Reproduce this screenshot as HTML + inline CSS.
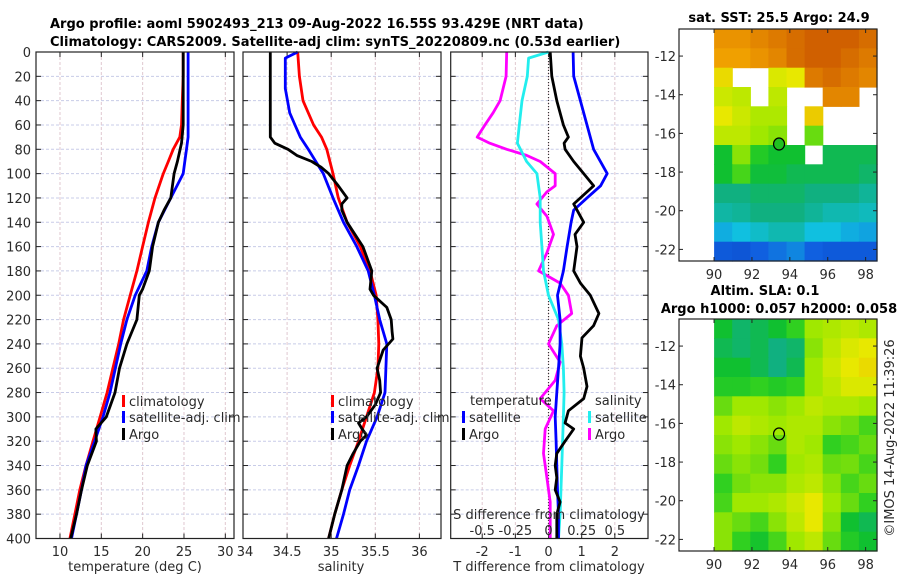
<!DOCTYPE html>
<html><head><meta charset="utf-8">
<style>
body{margin:0;background:#fff;}
svg{display:block;font-family:"DejaVu Sans","Liberation Sans",sans-serif;}
.t{font-size:13px;fill:#2a2a2a;}
.b{font-weight:bold;font-size:13px;fill:#000;}
</style></head>
<body>
<svg id="fig" width="900" height="580" viewBox="0 0 900 580">
<text class="b" x="50" y="28">Argo profile: aoml 5902493_213 09-Aug-2022 16.55S 93.429E (NRT data)</text>
<text class="b" x="50" y="46">Climatology: CARS2009. Satellite-adj clim: synTS_20220809.nc (0.53d earlier)</text>
<g id="g"></g>
</svg>
<script>
// ---------- data ----------
const depthT = [0,20,40,60,70,80,90,100,120,140,160,180,200,220,240,260,280,300,320,340,360,380,400];
const tempClim = [24.9,24.9,24.8,24.7,24.5,23.7,23.1,22.5,21.5,20.7,20.0,19.3,18.5,17.7,17.1,16.4,15.7,14.85,14.0,13.15,12.4,11.8,11.2];
const tempSat  = [25.5,25.5,25.5,25.5,25.5,25.3,25.1,24.9,23.4,21.9,21.1,20.5,19.1,18.1,17.35,16.7,16.05,15.2,14.2,13.15,12.6,12.0,11.4];
const depthTA = [0,20,40,60,75,90,100,120,130,140,160,180,195,200,220,240,260,280,300,310,320,340,360,380,400];
const tempArgo = [24.9,24.9,24.9,24.9,24.7,24.2,23.8,23.4,22.6,21.9,21.2,20.8,20.0,19.6,19.3,18.1,17.2,16.66,15.6,14.35,14.4,13.3,12.6,12.0,11.3];

const depthS = [0,20,40,60,70,80,100,120,140,160,180,200,220,240,260,280,300,320,340,360,380,400];
const salClim = [34.62,34.64,34.68,34.80,34.89,34.95,35.02,35.08,35.18,35.33,35.44,35.51,35.53,35.54,35.53,35.49,35.40,35.31,35.21,35.12,35.04,34.97];
const depthSS = [0,5,30,50,60,70,80,100,120,140,160,180,200,220,240,260,280,300,320,340,360,380,400];
const salSat = [34.62,34.48,34.48,34.53,34.59,34.65,34.74,34.91,35.02,35.14,35.29,35.42,35.49,35.55,35.63,35.62,35.61,35.52,35.40,35.31,35.21,35.14,35.06];
const depthSA = [0,70,75,80,85,90,95,100,110,120,125,130,140,160,180,195,200,210,220,230,236,245,260,270,280,290,300,305,310,315,320,330,340,360,380,400];
const salArgo = [34.31,34.31,34.36,34.51,34.61,34.78,34.89,34.97,35.08,35.18,35.12,35.12,35.18,35.36,35.46,35.44,35.48,35.63,35.68,35.69,35.70,35.59,35.52,35.55,35.56,35.50,35.40,35.31,35.35,35.40,35.33,35.25,35.18,35.12,35.04,34.97];

const depthDTA = [0,20,40,60,70,75,80,90,100,110,115,125,130,140,150,160,180,190,200,215,225,235,250,260,275,285,295,305,310,320,330,340,350,360,370,380,400];
const dTArgo = [0.05,0.1,0.25,0.45,0.6,0.47,0.5,0.76,1.06,1.36,1.16,0.76,0.86,1.06,0.8,0.86,0.76,0.96,1.26,1.52,1.36,1.01,0.96,1.06,1.16,1.06,0.6,0.5,0.76,0.5,0.25,0.2,0.25,0.2,0.35,0.25,0.25];
const depthDTS = [0,20,40,60,80,100,110,120,130,140,160,180,200,220,240,260,280,300,320,340,360,380,400];
const dTSat = [0.74,0.76,0.96,1.16,1.36,1.77,1.57,1.16,0.76,0.68,0.56,0.45,0.27,0.35,0.35,0.3,0.25,0.2,0.23,0.25,0.27,0.3,0.3];
const depthDSA = [0,20,40,50,60,70,75,80,85,90,100,110,115,125,135,150,165,180,190,200,215,225,240,255,270,285,295,310,330,350,370,400];
const dSArgo = [-0.315,-0.32,-0.365,-0.4175,-0.48,-0.5375,-0.4425,-0.315,-0.165,-0.0625,0.05,0.05,-0.0125,-0.0875,-0.0125,0.0375,-0.0125,-0.075,0.0875,0.15,0.175,0.0625,0,0.0875,0.05,-0.0625,0.0375,-0.025,-0.0375,-0.0125,0.0125,0.0125];
const depthDSS = [0,5,20,40,60,75,90,100,120,140,160,180,200,220,240,260,280,300,340,380,400];
const dSSat = [0,-0.15,-0.16,-0.2,-0.22,-0.235,-0.165,-0.0875,-0.0625,-0.0625,-0.05,-0.0375,0,0.075,0.1,0.1125,0.1175,0.1125,0.1,0.0875,0.075];

const depthTicks = [0,20,40,60,80,100,120,140,160,180,200,220,240,260,280,300,320,340,360,380,400];
const tTicks = [10,15,20,25,30];
const sTicks = [34,34.5,35,35.5,36];
const dTicks = [-2,-1,0,1,2];
const dSTicks = [-0.5,-0.25,0,0.25,0.5];
const dSTickLabels = ["-0.5","-0.25","0","0.25","0.5"];

// SST map (normalized colour values, null = no data), rows north->south
const sstGrid = [
[0.82,0.82,0.84,0.86,0.88,0.9,0.9,0.9,0.88],
[0.8,0.8,0.82,0.84,0.88,0.9,0.9,0.88,0.86],
[0.72,null,null,0.68,0.7,0.86,0.88,0.86,0.84],
[0.66,0.64,null,0.64,null,null,0.84,0.84,null],
[0.7,0.66,0.62,0.62,null,0.74,null,null,null],
[0.64,0.64,0.6,0.58,null,0.55,null,null,null],
[0.45,0.58,0.48,0.45,0.45,null,0.42,0.42,0.42],
[0.45,0.52,0.44,0.44,0.42,0.42,0.42,0.42,0.4],
[0.38,0.38,0.4,0.4,0.4,0.38,0.38,0.38,0.36],
[0.35,0.36,0.38,0.38,0.38,0.36,0.34,0.34,0.33],
[0.28,0.3,0.32,0.34,0.34,0.3,0.3,0.28,0.27],
[0.18,0.17,0.2,0.22,0.24,0.2,0.18,0.18,0.18]];
const slaGrid = [
[0.45,0.4,0.42,0.45,0.5,0.6,0.62,0.64,0.62],
[0.42,0.4,0.42,0.38,0.4,0.58,0.64,0.68,0.7],
[0.45,0.45,0.42,0.38,0.42,0.6,0.66,0.7,0.72],
[0.48,0.48,0.5,0.48,0.5,0.6,0.64,0.68,0.68],
[0.55,0.6,0.6,0.58,0.6,0.64,0.62,0.62,0.6],
[0.6,0.64,0.62,0.6,0.62,0.62,0.58,0.56,0.52],
[0.58,0.6,0.58,0.55,0.62,0.6,0.5,0.52,0.55],
[0.55,0.58,0.56,0.5,0.6,0.62,0.55,0.56,0.52],
[0.5,0.56,0.58,0.58,0.62,0.64,0.58,0.52,0.55],
[0.52,0.6,0.6,0.62,0.66,0.7,0.6,0.55,0.5],
[0.58,0.55,0.52,0.58,0.64,0.7,0.58,0.45,0.42],
[0.58,0.5,0.46,0.52,0.6,0.64,0.55,0.48,0.45]];
const lonTicks = [90,92,94,96,98];
const latTicks = [-12,-14,-16,-18,-20,-22];
const argoLon = 93.43, argoLat = -16.55;

// ---------- drawing ----------
const NS='http://www.w3.org/2000/svg';
const G=document.getElementById('g');
function el(tag,attrs,parent){const e=document.createElementNS(NS,tag);for(const k in attrs)e.setAttribute(k,attrs[k]);(parent||G).appendChild(e);return e;}
function txt(x,y,s,anchor,cls,parent){const e=el('text',{x:x,y:y,'text-anchor':anchor||'middle','class':cls||'t'},parent);e.textContent=s;return e;}

const Y0=52,Y1=538.5;
const yD=d=>Y0+(Y1-Y0)*d/400;

function panel(name,x0,x1,xmin,xmax){
  const g=el('g',{});
  
  
  const sx=v=>x0+(x1-x0)*(v-xmin)/(xmax-xmin);
  return {g,sx,x0,x1};
}
function frame(p,xt,yLabels){
  const g=p.g;
  for(const d of depthTicks){
    const l=el('line',{x1:p.x0,x2:p.x1,y1:yD(d),y2:yD(d),stroke:'#c8cce8','stroke-width':1,'stroke-dasharray':'3,2'},g);
    
    
    el('line',{x1:p.x0,x2:p.x0+5,y1:yD(d),y2:yD(d),stroke:'#222'},g);
    el('line',{x1:p.x1,x2:p.x1-5,y1:yD(d),y2:yD(d),stroke:'#222'},g);
    if(yLabels){const t=txt(31,yD(d)+5,String(d),'end','t',g);
      
      }
  }
  for(const v of xt){
    const l=el('line',{x1:p.sx(v),x2:p.sx(v),y1:Y0,y2:Y1,stroke:'#e0c8d0','stroke-width':1,'stroke-dasharray':'3,2'},g);
    
    
    el('line',{x1:p.sx(v),x2:p.sx(v),y1:Y1,y2:Y1-5,stroke:'#222'},g);
    el('line',{x1:p.sx(v),x2:p.sx(v),y1:Y0,y2:Y0+5,stroke:'#222'},g);
  }
}
function border(p){el('rect',{x:p.x0,y:Y0,width:p.x1-p.x0,height:Y1-Y0,fill:'none',stroke:'#222','stroke-width':1.2},p.g);}
function line(p,xs,ds,color,name){
  const pts=xs.map((v,i)=>p.sx(v).toFixed(1)+','+yD(ds[i]).toFixed(1)).join(' ');
  const e=el('polyline',{points:pts,fill:'none',stroke:color,'stroke-width':2.8,'stroke-linejoin':'round'},p.g);
  
  
}
function legend(g,x,y,color,label,name){
  el('rect',{x:x,y:y-6,width:3,height:12,fill:color},g);
  const t=txt(x+7,y+5,label,'start','t',g);
  
  
}

// Panel 1 temperature
const p1=panel('temperature-panel',36,234,7.1,31.05);
frame(p1,tTicks,true);
line(p1,tempClim,depthT,'#f00','temp-climatology-line');
line(p1,tempSat,depthT,'#00f','temp-satellite-line');
line(p1,tempArgo,depthTA,'#000','temp-argo-line');
border(p1);
tTicks.forEach(v=>{const t=txt(p1.sx(v),556,String(v),'middle','t',p1.g);
  
  });
{const t=txt(135,571,'temperature (deg C)','middle','t',p1.g);
 
 }
legend(p1.g,122,401,'#f00','climatology','legend-climatology');
legend(p1.g,122,417,'#00f','satellite-adj. clim','legend-satellite');
legend(p1.g,122,434,'#000','Argo','legend-argo');

// Panel 2 salinity
const p2=panel('salinity-panel',243,441,34,36.245);
frame(p2,sTicks,false);
line(p2,salClim,depthS,'#f00','sal-climatology-line');
line(p2,salSat,depthSS,'#00f','sal-satellite-line');
line(p2,salArgo,depthSA,'#000','sal-argo-line');
border(p2);
sTicks.forEach(v=>{const t=txt(p2.sx(v)+(v===34?2:0),556,String(v),'middle','t',p2.g);
  
  });
{const t=txt(341,571,'salinity','middle','t',p2.g);
 
 }
legend(p2.g,331,401,'#f00','climatology','legend-climatology');
legend(p2.g,331,417,'#00f','satellite-adj. clim','legend-satellite');
legend(p2.g,331,434,'#000','Argo','legend-argo');

// Panel 3 differences
const p3=panel('difference-panel',450.7,648,-2.95,3.0);
frame(p3,dTicks,false);
el('line',{x1:p3.sx(0),x2:p3.sx(0),y1:Y0,y2:Y1,stroke:'#333','stroke-width':1.2,'stroke-dasharray':'1,2'},p3.g);
const sxS=v=>p3.sx(v*4);
const dsA=dSArgo.map(v=>v*4), dsS=dSSat.map(v=>v*4);
line(p3,dsA,depthDSA,'#f0f','sal-diff-argo-line');
line(p3,dsS,depthDSS,'#22eeee','sal-diff-satellite-line');
line(p3,dTSat,depthDTS,'#00f','temp-diff-satellite-line');
line(p3,dTArgo,depthDTA,'#000','temp-diff-argo-line');
border(p3);
dTicks.forEach(v=>{const t=txt(p3.sx(v),556,String(v),'middle','t',p3.g);
  
  });
dSTicks.forEach((v,i)=>{const t=txt(sxS(v),535,dSTickLabels[i],'middle','t',p3.g);
  
  });
{const t=txt(549,519,'S difference from climatology','middle','t',p3.g);
 
 
 const t2=txt(549,571,'T difference from climatology','middle','t',p3.g);
 
 
 const t3=txt(470,405,'temperature','start','t',p3.g);
 
 
 const t4=txt(595,405,'salinity','start','t',p3.g);
 
 }
legend(p3.g,462,417,'#00f','satellite','legend-temp-satellite');
legend(p3.g,462,434,'#000','Argo','legend-temp-argo');
legend(p3.g,588,417,'#22eeee','satellite','legend-sal-satellite');
legend(p3.g,588,434,'#f0f','Argo','legend-sal-argo');

// ---------- maps ----------
const stops=[[0,[0,32,160]],[0.2,[16,96,224]],[0.3,[16,192,224]],[0.38,[16,176,128]],[0.45,[16,192,48]],[0.5,[48,208,32]],[0.6,[160,232,0]],[0.7,[232,232,0]],[0.8,[240,160,0]],[0.9,[208,96,0]],[1,[180,60,0]]];
function cmap(v){for(let i=1;i<stops.length;i++){if(v<=stops[i][0]){const a=stops[i-1],b=stops[i],f=(v-a[0])/(b[0]-a[0]);
  return 'rgb('+a[1].map((c,k)=>Math.round(c+(b[1][k]-c)*f)).join(',')+')';}}return 'rgb(180,60,0)';}
function map(name,top,grid,titleLines,markerFill){
  const X0=679,X1=877,H=232,Y=top;
  const g=el('g',{});
  
  
  const sx=lon=>X0+(X1-X0)*(lon-88.15)/(98.6-88.15);
  const sy=lat=>Y+H*(-10.6-lat)/12;
  const rows=grid.length, cols=grid[0].length;
  const lon0=90, dlon=(98.6-90)/cols, lat0=-10.6, dlat=12/rows;
  grid.forEach((row,r)=>row.forEach((v,c)=>{
    if(v===null)return;
    const x=sx(lon0+c*dlon), y=sy(lat0-r*dlat);
    const cell=el('rect',{x:x.toFixed(1),y:y.toFixed(1),width:(sx(lon0+(c+1)*dlon)-x+0.6).toFixed(1),height:(sy(lat0-(r+1)*dlat)-y+0.6).toFixed(1),fill:cmap(v)},g);
    
    
  }));
  el('rect',{x:X0,y:Y,width:X1-X0,height:H,fill:'none',stroke:'#222','stroke-width':1.2},g);
  lonTicks.forEach(v=>{el('line',{x1:sx(v),x2:sx(v),y1:Y+H,y2:Y+H-4,stroke:'#222'},g);
    el('line',{x1:sx(v),x2:sx(v),y1:Y,y2:Y+4,stroke:'#222'},g);
    const t=txt(sx(v),Y+H+18,String(v),'middle','t',g);
    
    });
  latTicks.forEach(v=>{el('line',{x1:X0,x2:X0+4,y1:sy(v),y2:sy(v),stroke:'#222'},g);
    el('line',{x1:X1,x2:X1-4,y1:sy(v),y2:sy(v),stroke:'#222'},g);
    const t=txt(676,sy(v)+5,String(v),'end','t',g);
    
    });
  const m=el('ellipse',{cx:sx(argoLon),cy:sy(argoLat),rx:5.5,ry:6,fill:markerFill,stroke:'#000','stroke-width':1.2},g);
  
  
  titleLines.forEach(s=>{const t=txt(s[1],s[2],s[0],'middle','b',g);
    
    });
}
map('sst-map',29,sstGrid,[['sat. SST: 25.5 Argo: 24.9',779,22]],'#20c020');
map('sla-map',319,slaGrid,[['Altim. SLA: 0.1',765,295],['Argo h1000: 0.057 h2000: 0.058',779,313]],'none');
{const t=txt(0,0,'©IMOS 14-Aug-2022 11:39:26','middle','t');
 t.setAttribute('transform','translate(894,438) rotate(-90)');
 
 }
</script>
</body></html>
